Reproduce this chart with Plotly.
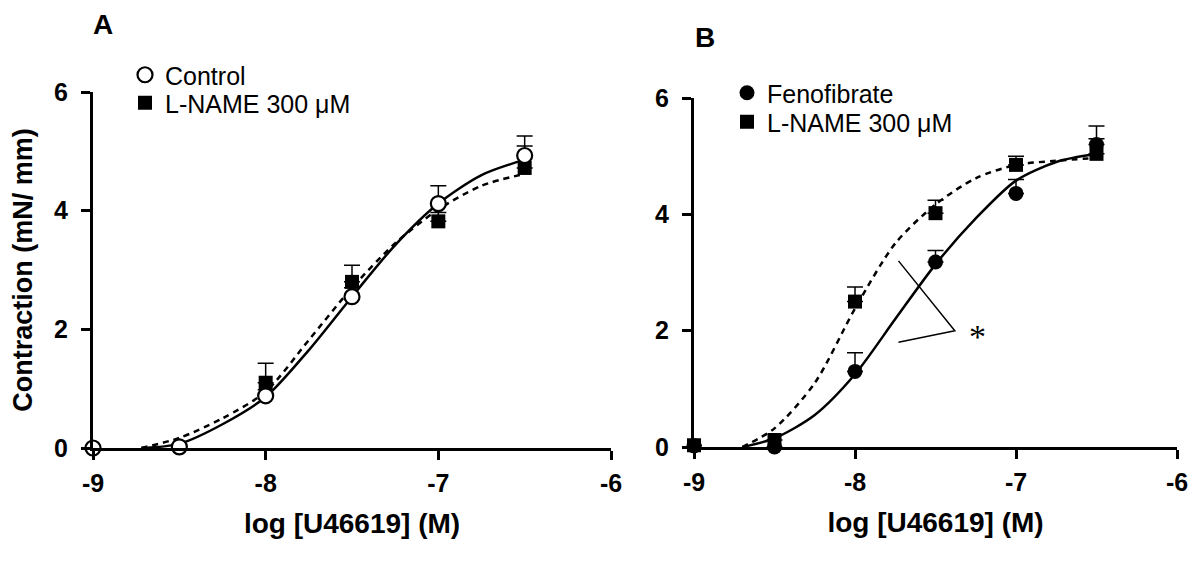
import plotly.graph_objects as go

# measured points (log molar U46619) and contraction in mN/mm
log_conc = [-9, -8.5, -8, -7.5, -7, -6.5]

control = [0, 0.02, 0.88, 2.55, 4.12, 4.93]
control_se = [0, 0, 0.1, 0.15, 0.3, 0.33]
lname_a = [None, None, 1.1, 2.8, 3.82, 4.72]
lname_a_se = [0, 0, 0.33, 0.28, 0.15, 0.37]

feno = [0.02, 0, 1.3, 3.18, 4.36, 5.2]
feno_se = [0, 0, 0.32, 0.2, 0.24, 0.32]
lname_b = [0.03, 0.12, 2.5, 4.02, 4.85, 5.04]
lname_b_se = [0, 0, 0.25, 0.22, 0.15, 0.26]

# fitted curves
fit_x_a = [-8.72, -8.5, -8.25, -8.0, -7.75, -7.5, -7.25, -7.0, -6.75, -6.5]
fit_control = [0, 0.07, 0.4, 0.86, 1.65, 2.55, 3.42, 4.12, 4.6, 4.86]
fit_lname_a = [0, 0.17, 0.5, 0.95, 1.82, 2.7, 3.45, 4.02, 4.42, 4.62]

fit_x_b = [-8.7, -8.5, -8.25, -8.0, -7.75, -7.5, -7.25, -7.0, -6.75, -6.5]
fit_feno = [0, 0.15, 0.55, 1.25, 2.2, 3.14, 3.93, 4.58, 4.9, 5.04]
fit_lname_b = [0, 0.32, 1.1, 2.38, 3.5, 4.17, 4.62, 4.85, 4.92, 4.97]

x_ticks = [-9, -8, -7, -6]
x_ticktext = ["<b>-9</b>", "<b>-8</b>", "<b>-7</b>", "<b>-6</b>"]
y_ticks = [0, 2, 4, 6]
y_ticktext = ["<b>0</b>", "<b>2</b>", "<b>4</b>", "<b>6</b>"]

FONT = "Liberation Sans, Arial, sans-serif"
W, H = 1196, 565
PAGE = 8  # browser body margin


def px(x):
    return (x - PAGE) / W


def py(y):
    return 1 - (y - PAGE) / H


def err(se):
    return dict(type="data", symmetric=False, array=se, arrayminus=[0] * len(se),
                color="black", thickness=1.5, width=8)


def leg(xm, yc):
    return dict(x=(xm - 28) / W, y=py(yc), xanchor="left", yanchor="middle", bgcolor="rgba(0,0,0,0)",
                font=dict(family=FONT, size=25, color="black"))


fig = go.Figure()

# panel A
fig.add_trace(go.Scatter(x=fit_x_a, y=fit_lname_a, mode="lines",
                         line=dict(color="black", width=2.5, dash="6px,5px", shape="spline", smoothing=0.8),
                         showlegend=False, xaxis="x", yaxis="y"))
fig.add_trace(go.Scatter(x=fit_x_a, y=fit_control, mode="lines",
                         line=dict(color="black", width=2.5, shape="spline", smoothing=0.8),
                         showlegend=False, xaxis="x", yaxis="y"))
fig.add_trace(go.Scatter(x=log_conc, y=lname_a, mode="markers", name="L-NAME 300 μM",
                         marker=dict(symbol="square", size=14, color="black"), error_y=err(lname_a_se),
                         cliponaxis=False, legend="legend2", xaxis="x", yaxis="y"))
fig.add_trace(go.Scatter(x=log_conc, y=control, mode="markers", name="Control",
                         marker=dict(symbol="circle", size=15, color="white", line=dict(color="black", width=2.2)),
                         error_y=err(control_se), cliponaxis=False, legend="legend", xaxis="x", yaxis="y"))

# panel B
fig.add_trace(go.Scatter(x=fit_x_b, y=fit_lname_b, mode="lines",
                         line=dict(color="black", width=2.5, dash="6px,5px", shape="spline", smoothing=0.8),
                         showlegend=False, xaxis="x2", yaxis="y2"))
fig.add_trace(go.Scatter(x=fit_x_b, y=fit_feno, mode="lines",
                         line=dict(color="black", width=2.5, shape="spline", smoothing=0.8),
                         showlegend=False, xaxis="x2", yaxis="y2"))
fig.add_trace(go.Scatter(x=log_conc, y=lname_b, mode="markers", name="L-NAME 300 μM",
                         marker=dict(symbol="square", size=14, color="black"), error_y=err(lname_b_se),
                         cliponaxis=False, legend="legend4", xaxis="x2", yaxis="y2"))
fig.add_trace(go.Scatter(x=log_conc, y=feno, mode="markers", name="Fenofibrate",
                         marker=dict(symbol="circle", size=15, color="black"), error_y=err(feno_se),
                         cliponaxis=False, legend="legend3", xaxis="x2", yaxis="y2"))

ax = dict(showline=True, linecolor="black", linewidth=3, ticks="outside", tickwidth=3, ticklen=9,
          tickcolor="black", showgrid=False, zeroline=False, automargin=False,
          tickfont=dict(family=FONT, size=25, color="black"))
xtitle = dict(text="<b>log [U46619] (M)</b>", font=dict(family=FONT, size=28, color="black"), standoff=18)

fig.update_layout(
    width=W, height=H, margin=dict(l=0, r=0, t=0, b=0, autoexpand=False),
    plot_bgcolor="white", paper_bgcolor="white",
    xaxis=dict(ax, domain=[px(93), px(611)], range=[-9, -6], tickvals=x_ticks, ticktext=x_ticktext,
               ticklabelstandoff=2, anchor="y", title=xtitle),
    yaxis=dict(ax, domain=[py(448), py(92)], range=[0, 6], tickvals=y_ticks, ticktext=y_ticktext, anchor="x",
               ticklabelstandoff=8,
               title=dict(text="<b>Contraction (mN/ mm)</b>", font=dict(family=FONT, size=27, color="black"),
                          standoff=24)),
    xaxis2=dict(ax, domain=[px(694), px(1177)], range=[-9, -6], tickvals=x_ticks, ticktext=x_ticktext,
                ticklabelstandoff=2, anchor="y2", title=xtitle),
    yaxis2=dict(ax, domain=[py(447), py(98)], range=[0, 6], tickvals=y_ticks, ticktext=y_ticktext,
                ticklabelstandoff=8, anchor="x2"),
    legend=leg(145, 75),
    legend2=leg(145, 103),
    legend3=leg(747, 93),
    legend4=leg(747, 122),
    annotations=[
        dict(text="<b>A</b>", x=px(103), y=py(25), xref="paper", yref="paper", showarrow=False,
             xanchor="center", yanchor="middle", font=dict(family=FONT, size=28, color="black")),
        dict(text="<b>B</b>", x=px(705), y=py(38), xref="paper", yref="paper", showarrow=False,
             xanchor="center", yanchor="middle", font=dict(family=FONT, size=28, color="black")),
        dict(text="*", x=-7.24, y=1.9, xref="x2", yref="y2", showarrow=False,
             font=dict(family="Liberation Serif, serif", size=34, color="black")),
    ],
    shapes=[
        dict(type="path", path="M -7.73,3.2 L -7.38,2.0 L -7.73,1.8", xref="x2", yref="y2",
             line=dict(color="black", width=1.5)),
    ],
)

fig.write_html("out.html")
